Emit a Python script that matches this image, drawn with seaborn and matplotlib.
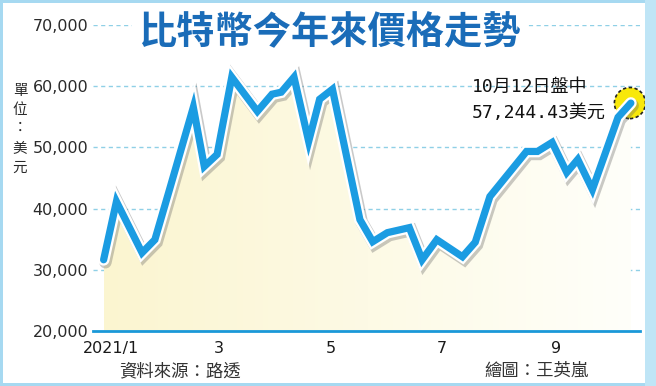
import numpy as np
import pandas as pd
import matplotlib
matplotlib.use("Agg")
import matplotlib.pyplot as plt
import matplotlib.dates as mdates
import matplotlib.patheffects as pe
from matplotlib.patches import Rectangle
import seaborn as sns

# ---- data ----
dates = ["2020-12-28", "2021-01-04", "2021-01-18", "2021-01-25", "2021-02-02",
         "2021-02-15", "2021-02-21", "2021-02-28", "2021-03-08", "2021-03-22",
         "2021-03-30", "2021-04-04", "2021-04-11", "2021-04-19", "2021-04-25",
         "2021-05-02", "2021-05-17", "2021-05-24", "2021-06-01", "2021-06-13",
         "2021-06-20", "2021-06-28", "2021-07-12", "2021-07-19", "2021-07-27",
         "2021-08-16", "2021-08-22", "2021-08-30", "2021-09-07", "2021-09-13",
         "2021-09-21", "2021-10-05", "2021-10-12"]
prices = [31640, 41150, 32790, 34920, 43120,
          56560, 46890, 48850, 61480, 55900,
          58690, 59020, 61480, 50980, 57870,
          59510, 38200, 34590, 36070, 36890,
          31640, 34920, 32130, 34510, 41970,
          49340, 49340, 50820, 45900, 48030,
          43120, 54920, 57244.43]
yticks = [20000, 30000, 40000, 50000, 60000, 70000]
ytick_labels = ["20,000", "30,000", "40,000", "50,000", "60,000", "70,000"]
xtick_dates = ["2021-01-01", "2021-03-01", "2021-05-01", "2021-07-01", "2021-09-01"]
xtick_labels = ["2021/1", "3", "5", "7", "9"]
title = "比特幣今年來價格走勢"
unit_label = "單位：美元"
note_lines = ["10月12日盤中", "57,244.43美元"]
source = "資料來源：路透"
credit = "繪圖：王英嵐"

df = pd.DataFrame({"date": pd.to_datetime(dates), "price": prices})

sns.set_theme(style="white")
plt.rcParams["font.family"] = ["DejaVu Sans", "Noto Sans CJK TC"]

W, H = 656, 386
fig = plt.figure(figsize=(W / 100, H / 100), dpi=100)
fig.patch.set_facecolor("white")

def fx(px):
    return px / W

def fy(py):
    return 1 - py / H

ax = fig.add_axes([fx(93), fy(331), fx(640) - fx(93), fy(25) - fy(331)])
ax.set_facecolor("none")

x0 = mdates.date2num(pd.Timestamp("2021-01-01"))
xmin, xmax = x0 - 9.8, x0 + 289

# gradient fill under the line
xnum = mdates.date2num(df["date"])
poly = ax.fill_between(xnum, df["price"], 20000, color="none", lw=0)
c0 = np.array([251, 245, 208]) / 255
c1 = np.array([255, 255, 250]) / 255
t = np.linspace(0, 1, 256)
grad = (c0[None, :] * (1 - t[:, None]) + c1[None, :] * t[:, None])[None, :, :]
im = ax.imshow(grad, extent=[xnum[0], xnum[-1], 20000, 70000], aspect="auto",
               zorder=1, interpolation="bilinear")
im.set_clip_path(poly.get_paths()[0], transform=ax.transData)
ax.set_xlim(xmin, xmax)
ax.set_ylim(20000, 70000)

# grid lines
for v in yticks[1:]:
    ax.axhline(v, color="#8fd0e6", lw=1.0, dashes=(3, 2.5), zorder=0.5)

# end marker (below the line)
ax.scatter([xnum[-1] - 0.5], [prices[-1]], s=500, facecolor="#f8e80a",
           edgecolor="#222222", linewidths=1.2, linestyles=(0, (2, 1.5)),
           zorder=4, clip_on=False)

# line
sns.lineplot(x=xnum, y=df["price"].values, ax=ax, color="#1b9ce2", lw=5.2,
             zorder=5, legend=False)
line = ax.lines[-1]
line.set_solid_joinstyle("miter")
line.set_solid_capstyle("round")
line.set_clip_on(False)
line.set_path_effects([
    pe.SimpleLineShadow(offset=(1.3, -1.8), shadow_color="#666666", alpha=0.35, linewidth=9),
    pe.Stroke(linewidth=8.5, foreground="white"),
    pe.Normal(),
])

# axes styling
for s in ["left", "top", "right"]:
    ax.spines[s].set_visible(False)
ax.spines["bottom"].set_color("#1a98d8")
ax.spines["bottom"].set_linewidth(2.0)
ax.spines["bottom"].set_zorder(6)

ax.set_yticks(yticks)
ax.set_yticklabels(ytick_labels)
ax.tick_params(axis="y", length=0, pad=3.5, labelsize=11.5, labelcolor="#2a2a2a")
xt = [mdates.date2num(pd.Timestamp(d)) for d in xtick_dates]
ax.set_xticks(xt)
ax.set_xticklabels(xtick_labels)
ax.tick_params(axis="x", length=5, width=1.5, color="#1a98d8", direction="out",
               pad=2, labelsize=11.5, labelcolor="#1a1a1a")
ax.set_xlabel("")
ax.set_ylabel("")
ax.grid(False)

# title
fig.text(fx(329), fy(33), title, ha="center", va="center",
         fontsize=27.5, fontweight="bold", color="#1a6cb8",
         family=["Noto Sans CJK TC", "DejaVu Sans"],
         bbox=dict(boxstyle="square,pad=0.15", fc="white", ec="none"))

# vertical unit label
ys = [91, 110, 128, 149, 168]
for ch, yy in zip(unit_label, ys):
    fig.text(fx(20), fy(yy), ch, ha="center", va="center", fontsize=10.5,
             color="#2a2a2a", family=["Noto Sans CJK TC", "DejaVu Sans"])

# annotation
fig.text(fx(472), fy(87), note_lines[0], ha="left", va="center", fontsize=13,
         color="#111111", family=["DejaVu Sans Mono", "Noto Sans CJK TC"])
fig.text(fx(472), fy(113), note_lines[1], ha="left", va="center", fontsize=13,
         color="#111111", family=["DejaVu Sans Mono", "Noto Sans CJK TC"])

# source / credit
fig.text(fx(180), fy(371), source, ha="center", va="center", fontsize=12.5,
         color="#333333", family=["Noto Sans CJK TC", "DejaVu Sans"])
fig.text(fx(537), fy(371), credit, ha="center", va="center", fontsize=12.5,
         color="#333333", family=["Noto Sans CJK TC", "DejaVu Sans"])

# light blue frame
bc = "#a6d9f1"
fig.patches.append(Rectangle((0, 0), 1, 3 / H, transform=fig.transFigure, fc=bc, ec="none"))
fig.patches.append(Rectangle((0, 1 - 3 / H), 1, 3 / H, transform=fig.transFigure, fc=bc, ec="none"))
fig.patches.append(Rectangle((0, 0), 3 / W, 1, transform=fig.transFigure, fc=bc, ec="none"))
fig.patches.append(Rectangle((1 - 11 / W, 0), 11 / W, 1, transform=fig.transFigure, fc="#bfe5f6", ec="none"))

fig.savefig("out.png", dpi=100, facecolor="white")
